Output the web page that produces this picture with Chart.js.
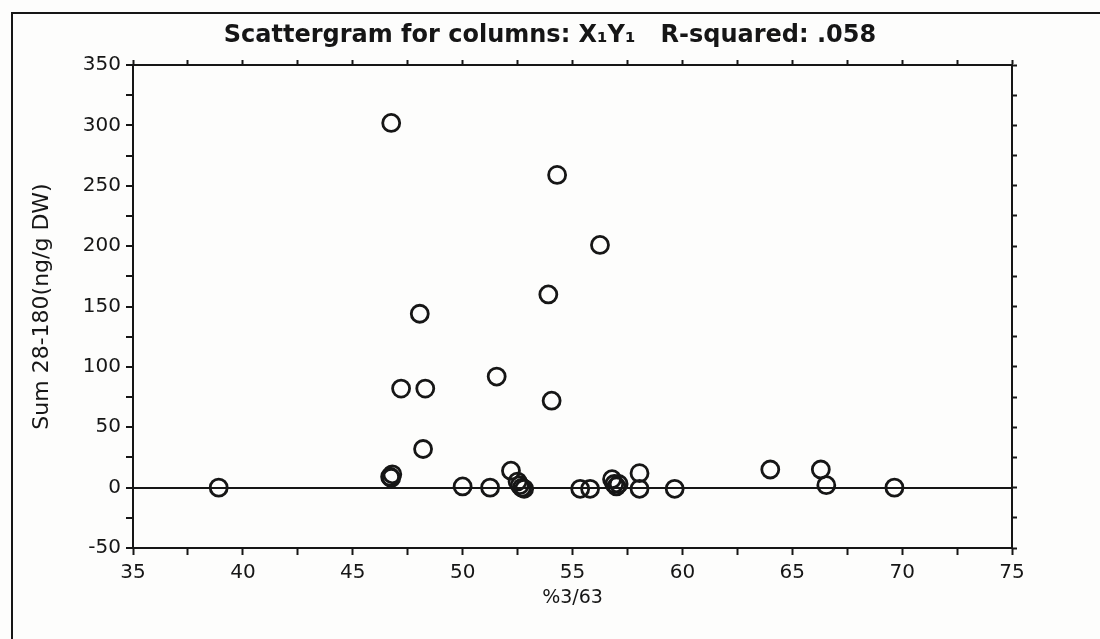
<!DOCTYPE html>
<html>
<head>
<meta charset="utf-8">
<script src="https://cdn.jsdelivr.net/npm/chart.js@4.4.1/dist/chart.umd.min.js"></script>
<style>
  html, body { margin: 0; padding: 0; background: #fdfdfc; }
  #wrap { width: 1100px; height: 639px; position: relative; }
</style>
</head>
<body>
<div id="wrap"><canvas id="c" width="1100" height="639"></canvas></div>
<script>
// % 3/63 ratio (x) against summed PCB 28-180 concentration (y)
const pct363 = [
  38.9, 46.75, 54.3, 56.25, 53.9, 48.05, 47.2, 48.3, 51.55, 54.05,
  48.2, 46.7, 46.8, 46.75, 52.2, 50.0, 51.25, 52.5, 52.6, 52.7,
  52.8, 55.35, 55.8, 56.8, 56.9, 57.0, 57.1, 58.05, 58.05, 59.65,
  64.0, 66.3, 66.55, 69.65
];
const sum28to180 = [
  0, 302, 259, 201, 160, 144, 82, 82, 92, 72,
  32, 9, 11, 8, 14, 1, 0, 5, 2, 0,
  -1, -1, -1, 7, 3, 1, 3, 12, -1, -1,
  15, 15, 2, 0
];

const xRange = [35, 75];
const yRange = [-50, 350];
const xMajor = 5, xMinor = 2.5;
const yMajor = 50, yMinor = 25;

const titleText = 'Scattergram for columns: X\u2081Y\u2081   R-squared: .058';
const xTitle = '%3/63';
const yTitle = 'Sum 28-180(ng/g DW)';

const ink = '#161616';
const points = pct363.map((x, i) => ({ x: x, y: sum28to180[i] }));

// paper background and the outer frame lines of the printout
const framePlugin = {
  id: 'frame',
  beforeDraw(chart) {
    const ctx = chart.ctx;
    ctx.save();
    ctx.fillStyle = '#fdfdfc';
    ctx.fillRect(0, 0, chart.width, chart.height);
    ctx.strokeStyle = ink;
    ctx.lineWidth = 2;
    ctx.beginPath();
    ctx.moveTo(12, chart.height);
    ctx.lineTo(12, 13);
    ctx.lineTo(chart.width, 13);
    ctx.stroke();
    ctx.restore();
  }
};

const tickFont = { family: 'DejaVu Sans', size: 20 };

new Chart(document.getElementById('c'), {
  type: 'scatter',
  data: {
    datasets: [{
      data: points,
      pointStyle: 'circle',
      pointRadius: 8.5,
      pointHoverRadius: 8.5,
      borderWidth: 2.8,
      borderColor: ink,
      backgroundColor: 'rgba(0,0,0,0)'
    }]
  },
  options: {
    responsive: false,
    animation: false,
    events: [],
    layout: { padding: 0 },
    plugins: {
      legend: { display: false },
      tooltip: { enabled: false },
      title: {
        display: true,
        text: titleText,
        color: ink,
        font: { family: 'DejaVu Sans', size: 24, weight: 'bold', lineHeight: 1.0 },
        padding: { top: 24, bottom: 0 }
      }
    },
    scales: {
      x: {
        type: 'linear',
        position: 'bottom',
        min: xRange[0], max: xRange[1],
        afterFit(s) { s.height = 91; },
        border: { display: true, color: ink, width: 2 },
        grid: { drawOnChartArea: false, drawTicks: true, tickLength: 7, tickWidth: 2, tickColor: ink },
        ticks: {
          stepSize: xMinor,
          color: ink, font: tickFont, padding: 6, maxRotation: 0, autoSkip: false,
          callback: v => (v % xMajor === 0 ? String(v) : '')
        },
        title: { display: true, text: xTitle, color: ink, font: { family: 'DejaVu Sans', size: 19, lineHeight: 1.2 }, padding: 30 }
      },
      x2: {
        type: 'linear',
        position: 'top',
        min: xRange[0], max: xRange[1],
        afterFit(s) { s.height = 17; },
        border: { display: true, color: ink, width: 2 },
        grid: { drawOnChartArea: false, drawTicks: true, tickLength: 5, tickWidth: 2, tickColor: ink },
        ticks: { stepSize: xMinor, display: false }
      },
      y: {
        type: 'linear',
        position: 'left',
        min: yRange[0], max: yRange[1],
        afterFit(s) { s.width = 133; },
        border: { display: true, color: ink, width: 2 },
        grid: {
          drawOnChartArea: true,
          drawTicks: true, tickLength: 7, tickWidth: 2, tickColor: ink,
          lineWidth: 2,
          color: c => (c.tick && c.tick.value === 0 ? ink : 'rgba(0,0,0,0)')
        },
        ticks: {
          stepSize: yMinor,
          color: ink, font: tickFont, padding: 5, autoSkip: false,
          callback: v => (v % yMajor === 0 ? String(v) : '')
        },
        title: { display: true, text: yTitle, color: ink, font: { family: 'DejaVu Sans', size: 22, lineHeight: 1.0 }, padding: 31 }
      },
      y2: {
        type: 'linear',
        position: 'right',
        min: yRange[0], max: yRange[1],
        afterFit(s) { s.width = 88; },
        border: { display: true, color: ink, width: 2 },
        grid: { drawOnChartArea: false, drawTicks: true, tickLength: 5, tickWidth: 2, tickColor: ink },
        ticks: { stepSize: yMinor, display: false }
      }
    }
  },
  plugins: [framePlugin]
});
</script>
</body>
</html>
